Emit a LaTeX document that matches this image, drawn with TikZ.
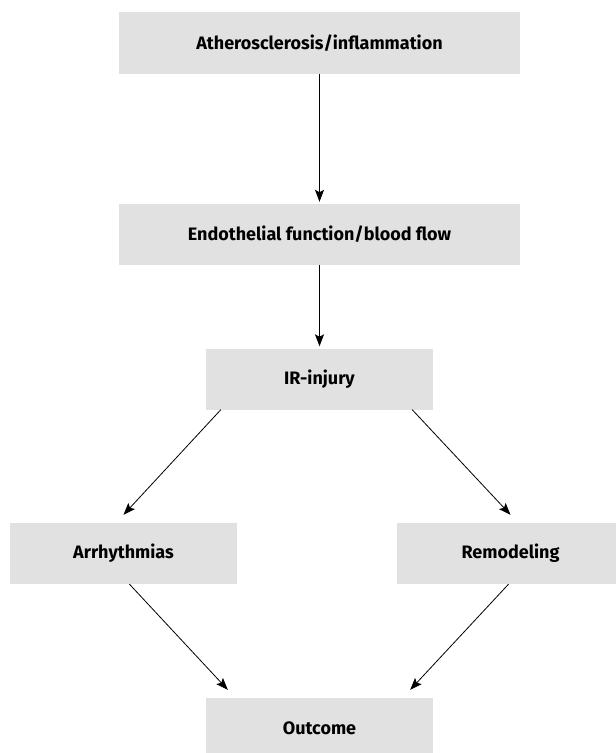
\documentclass[tikz,border=0pt]{standalone}
\usepackage{fontspec}
\setmainfont{Fira Sans}
\usetikzlibrary{arrows.meta}
\definecolor{boxgray}{HTML}{E1E1E1}
\tikzset{
  stage/.style={fill=boxgray, draw=none, inner sep=0pt, minimum height=61bp,
    font=\fontsize{18bp}{20bp}\selectfont\bfseries, text=black},
  link/.style={draw=black, line width=0.8bp, -{Stealth[length=12bp,width=9bp,inset=2.5bp]}},
}
\begin{document}
\begin{tikzpicture}[x=1bp,y=-1bp]
  \clip (0,0) rectangle (616,753);
  \fill[white] (0,0) rectangle (616,753);

  % stages of the cascade
  \node[stage, minimum width=401bp] (ath) at (319.5,43)  {Atherosclerosis/inflammation};
  \node[stage, minimum width=401bp] (endo) at (319.5,234.5) {Endothelial function/blood flow};
  \node[stage, minimum width=227bp] (ir) at (319.5,379) {IR-injury};
  \node[stage, minimum width=227bp] (arr) at (123.5,553.5) {Arrhythmias};
  \node[stage, minimum width=227bp] (rem) at (510.5,553.5) {Remodeling};
  \node[stage, minimum width=227bp] (out) at (319.5,728.5) {Outcome};

  % connectors
  \draw[link] (ath.south) -- ([yshift=2bp]endo.north);
  \draw[link] (endo.south) -- ([yshift=2bp]ir.north);
  \draw[link] ([xshift=15bp]ir.south west) -- ([yshift=8bp]arr.north);
  \draw[link] ([xshift=-21bp]ir.south east) -- ([yshift=8bp]rem.north);
  \draw[link] ([xshift=6bp]arr.south) -- ([xshift=22bp,yshift=8bp]out.north west);
  \draw[link] ([xshift=-2bp]rem.south) -- ([xshift=-23bp,yshift=8bp]out.north east);
\end{tikzpicture}
\end{document}
